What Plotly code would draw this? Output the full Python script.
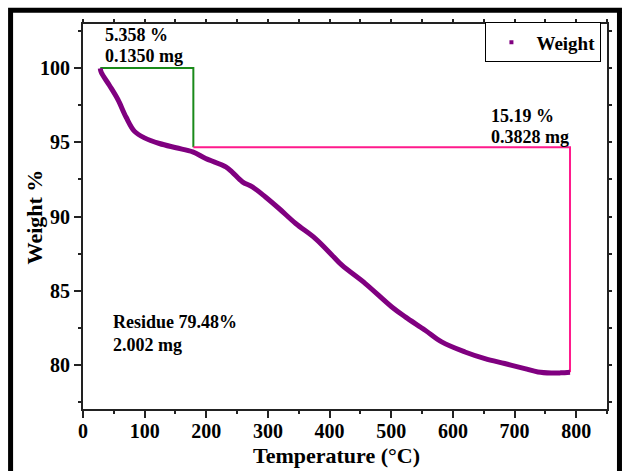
import plotly.graph_objects as go

# TGA curve: temperature (°C) vs remaining weight (%)
temperature = [28, 29.7, 43, 56.6, 70, 83.6, 99.7, 124, 151, 178, 199, 231.7, 242,
               258.6, 274.7, 296, 318, 345, 377, 404, 420, 458, 501, 522.7, 555,
               581.8, 619.6, 652, 684, 716.6, 738, 759.6, 775, 790]
weight = [100.0, 99.72, 98.85, 97.9, 96.7, 95.75, 95.31, 94.93, 94.64, 94.36, 93.92,
          93.35, 93.0, 92.34, 92.0, 91.32, 90.54, 89.53, 88.51, 87.39, 86.71, 85.47,
          83.89, 83.22, 82.32, 81.53, 80.85, 80.4, 80.07, 79.73, 79.5, 79.43, 79.44,
          79.48]

# Weight-loss steps
step_bounds = [28, 179, 790]          # start / end temperatures of the two steps
step_loss_pct = [5.358, 15.19]
step_loss_mg = ["0.1350", "0.3828"]
residue_pct = 79.48
residue_mg = "2.002"

x_ticks = [0, 100, 200, 300, 400, 500, 600, 700, 800]
y_ticks = [80, 85, 90, 95, 100]

level_mid = residue_pct + step_loss_pct[1]
level_top = level_mid + step_loss_pct[0]

FONT = "Liberation Serif, Times New Roman, serif"
PURPLE = "#800080"
GREEN = "#1a8a1a"
PINK = "#ff1a8c"

fig = go.Figure()

fig.add_trace(go.Scatter(
    x=[step_bounds[0], step_bounds[1], step_bounds[1]],
    y=[level_top, level_top, level_mid],
    mode="lines", line=dict(color=GREEN, width=2), showlegend=False, hoverinfo="skip"))
fig.add_trace(go.Scatter(
    x=[step_bounds[1], step_bounds[2], step_bounds[2]],
    y=[level_mid, level_mid, residue_pct],
    mode="lines", line=dict(color=PINK, width=2), showlegend=False, hoverinfo="skip"))

fig.add_trace(go.Scatter(
    x=temperature, y=weight, mode="lines", name="Weight",
    line=dict(color=PURPLE, width=5, shape="spline", smoothing=1.0),
    showlegend=False, legendgroup="w"))
# legend entry drawn as a small square point
fig.add_trace(go.Scatter(
    x=[None], y=[None], mode="markers", name="Weight", legendgroup="w",
    marker=dict(symbol="square", size=4, color=PURPLE)))

# secondary axes carrying the small mirror ticks on top and right
fig.add_trace(go.Scatter(x=[None], y=[None], xaxis="x2", yaxis="y2",
                         showlegend=False, hoverinfo="skip"))

txt = dict(family=FONT, size=18, color="black", weight="bold")
annos = [
    (34, 102.25, f"{step_loss_pct[0]} %"),
    (34, 100.83, f"{step_loss_mg[0]} mg"),
    (660, 96.78, f"{step_loss_pct[1]} %"),
    (660, 95.38, f"{step_loss_mg[1]} mg"),
    (47, 82.88, f"Residue {residue_pct}%"),
    (47, 81.30, f"{residue_mg} mg"),
]
for ax_x, ax_y, t in annos:
    fig.add_annotation(x=ax_x, y=ax_y, text=t, showarrow=False, xanchor="left",
                       yanchor="middle", font=txt, borderpad=0)

title_font = dict(family=FONT, size=22, color="black", weight="bold")
fig.add_annotation(x=0.483, y=-0.122, xref="paper", yref="paper",
                   text="Temperature (°C)", showarrow=False, font=title_font,
                   xanchor="center", yanchor="middle")
fig.add_annotation(x=-0.0918, y=0.5, xref="paper", yref="paper",
                   text="Weight %", showarrow=False, font=title_font, textangle=-90,
                   xanchor="center", yanchor="middle")

# outer black frame
fig.add_shape(type="rect", xref="paper", yref="paper",
              x0=-0.1382, x1=1.0238, y0=1.0356, y1=-0.2,
              line=dict(color="black", width=5), fillcolor="rgba(0,0,0,0)")

tick_font = dict(family=FONT, size=20, color="black", weight="bold")
axis_common = dict(showline=True, linecolor="#222", linewidth=2, ticks="outside",
                   ticklen=7, tickwidth=2, tickcolor="#222", showgrid=False,
                   zeroline=False, tickfont=tick_font)

fig.update_layout(
    width=622, height=471,
    margin=dict(l=83, r=13, t=24, b=62),
    paper_bgcolor="white", plot_bgcolor="white",
    xaxis=dict(range=[0, 850], tickvals=x_ticks, ticklabelstandoff=-4, **axis_common,
               minor=dict(ticks="outside", ticklen=3, dtick=50, tickcolor="#222")),
    yaxis=dict(range=[77, 103], tickvals=y_ticks, **axis_common,
               minor=dict(ticks="outside", ticklen=3, dtick=2.5, tickcolor="#222")),
    xaxis2=dict(range=[0, 850], overlaying="x", side="top", anchor="y",
                showline=True, linecolor="#222", linewidth=2, ticks="outside",
                ticklen=3, tickwidth=1.5, tickcolor="#222", dtick=50,
                showticklabels=False, showgrid=False, zeroline=False),
    yaxis2=dict(range=[77, 103], overlaying="y", side="right", anchor="x",
                showline=True, linecolor="#222", linewidth=2, ticks="outside",
                ticklen=3, tickwidth=1.5, tickcolor="#222", dtick=2.5,
                showticklabels=False, showgrid=False, zeroline=False),
    legend=dict(x=0.768, y=0.952, xanchor="left", yanchor="middle",
                bordercolor="black", borderwidth=1, bgcolor="white",
                font=dict(family=FONT, size=19, color="black", weight="bold"),
                itemwidth=40, tracegroupgap=0),
    showlegend=True,
)

fig.write_html("out.html")
